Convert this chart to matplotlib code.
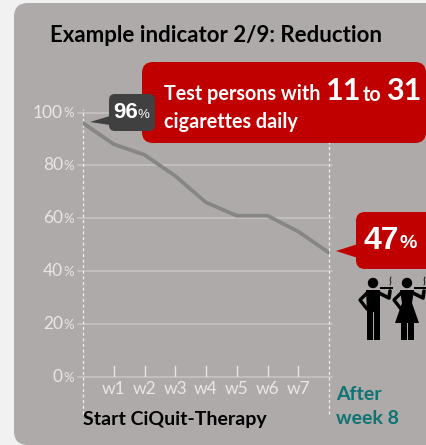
import matplotlib
matplotlib.use('Agg')
import matplotlib.pyplot as plt
from matplotlib.patches import FancyBboxPatch, Polygon, Circle, Rectangle

plt.rcParams['font.family'] = ['Lato', 'DejaVu Sans']

weeks = [0, 1, 2, 3, 4, 5, 6, 7, 8]
week_labels = ['w1', 'w2', 'w3', 'w4', 'w5', 'w6', 'w7']
percent = [96, 88, 84, 76, 66, 61, 61, 55, 47]
y_ticks = [0, 20, 40, 60, 80, 100]

W, H = 426, 445
GREY = '#aeaaa9'
RED = '#c00000'
LIGHT = '#e9e7e6'
GRID = '#c6c3c2'
TEAL = '#0f7373'
NARROW = ['Liberation Sans', 'DejaVu Sans']


def box(bg, x0, y0, x1, y1, r, color, **kw):
    bg.add_patch(FancyBboxPatch((x0 + r, y0 + r), x1 - x0 - 2 * r, y1 - y0 - 2 * r,
                                boxstyle='round,pad=%s,rounding_size=%s' % (r, r),
                                fc=color, ec='none', **kw))


def arms(bg, x):
    c = 'black'
    bg.add_patch(Circle((x, 283), 5.2, fc=c, ec='none'))
    # right arm up to the hand, left arm on the hip
    bg.plot([x + 6, x + 16, x + 17], [293, 298, 291], color=c, lw=2.6, solid_capstyle='round',
            solid_joinstyle='round')
    bg.plot([x - 6, x - 13, x - 6], [293, 300, 309], color=c, lw=2.4, solid_capstyle='round',
            solid_joinstyle='round')
    # cigarette and smoke
    bg.add_patch(Rectangle((x + 7, 286.5), 13, 2, fc=c, ec='none'))
    bg.plot([x + 17, x + 18, x + 17, x + 18], [285, 282, 280, 277], color=c, lw=0.6)


def man(bg, x):
    # pictogram, x is the head centre
    c = 'black'
    arms(bg, x)
    bg.add_patch(Polygon([(x - 7, 290), (x + 7, 290), (x + 7, 312), (x - 6, 312)], fc=c, ec='none'))
    bg.add_patch(Rectangle((x - 6, 310), 5.8, 29.5, fc=c, ec='none'))
    bg.add_patch(Rectangle((x + 1, 310), 5.8, 29.5, fc=c, ec='none'))


def woman(bg, x):
    c = 'black'
    arms(bg, x)
    bg.add_patch(Polygon([(x - 7, 290), (x + 7, 290), (x + 5, 303), (x + 12, 323), (x - 12, 323),
                          (x - 5, 303)], fc=c, ec='none'))
    bg.add_patch(Rectangle((x - 6, 322), 5.5, 17.5, fc=c, ec='none'))
    bg.add_patch(Rectangle((x + 1, 322), 5.5, 17.5, fc=c, ec='none'))


fig = plt.figure(figsize=(W / 100, H / 100), dpi=100, facecolor='#f1f1f1')

# pixel canvas behind the chart
bg = fig.add_axes([0, 0, 1, 1], zorder=0)
bg.set_xlim(0, W)
bg.set_ylim(H, 0)
bg.axis('off')
box(bg, 14, 3, 460, 445, 14, GREY)

# data axes: x 0..8 -> 83..329 px, y 0..100 -> 377..112.5 px
ax = fig.add_axes([83 / W, 1 - 377 / H, (329 - 83) / W, (377 - 112.5) / H], zorder=1)
ax.patch.set_alpha(0)
ax.set_xlim(0, 8)
ax.set_ylim(0, 100)
for s in ax.spines.values():
    s.set_visible(False)
ax.set_xticks([])
ax.set_yticks([])

for t in y_ticks:
    ax.plot([-0.16, 8.1], [t, t], color=GRID, lw=1.2, clip_on=False, zorder=1)
    ax.annotate(str(t), (0, t), xytext=(-14.5, 0), textcoords='offset points',
                ha='right', va='center', color=LIGHT, fontsize=12.5,
                annotation_clip=False)
    ax.annotate('%', (0, t), xytext=(-6.5, -0.5), textcoords='offset points',
                ha='right', va='center', color=LIGHT, fontsize=9.5,
                annotation_clip=False)

for x in [0, 8]:
    ax.plot([x, x], [-14, 101.5 if x == 0 else 110], color='#eeeeee', lw=0.9,
            ls=(0, (2.5, 2)), clip_on=False, zorder=2)

for i, lab in enumerate(week_labels):
    ax.plot([i + 1, i + 1], [0, 4], color=LIGHT, lw=1, zorder=2)
    ax.text(i + 1, -4.5, lab, ha='center', va='center', color=LIGHT, fontsize=12.5)

ax.plot(weeks, percent, color='#868686', lw=2.7, zorder=3, solid_joinstyle='round')

# text and callouts on top
top = fig.add_axes([0, 0, 1, 1], zorder=2)
top.set_xlim(0, W)
top.set_ylim(H, 0)
top.axis('off')
top.patch.set_alpha(0)

top.text(50, 35.5, 'Example indicator 2/9: Reduction', fontsize=16, fontweight='bold',
         va='center', color='black')

box(top, 142, 62, 426, 143, 11, RED)
top.text(164, 94, 'Test persons with', fontsize=14.2, fontweight='bold', color='white', va='center')
top.text(326, 91, '11', fontsize=22, fontweight='bold', color='white', va='center')
top.text(363, 95, 'to', fontsize=14.2, fontweight='bold', color='white', va='center')
top.text(386, 91, '31', fontsize=22, fontweight='bold', color='white', va='center')
top.text(164, 122, 'cigarettes daily', fontsize=14.2, fontweight='bold', color='white', va='center')

box(top, 109, 94, 155, 131, 6, '#404040')
top.add_patch(Polygon([(90, 122), (110, 116), (110, 125)], fc='#404040', ec='none'))
top.text(113, 113, '96', fontsize=16, fontweight='bold', color='white', va='center', family=NARROW)
top.text(138, 115.5, '%', fontsize=9.5, color='white', va='center', family=NARROW)

box(top, 356, 212, 440, 269, 9, RED)
top.add_patch(Polygon([(336, 251), (358, 244), (358, 258)], fc=RED, ec='none'))
top.text(364, 241, '47', fontsize=23, fontweight='bold', color='white', va='center', family=NARROW)
top.text(400, 244, '%', fontsize=14, fontweight='bold', color='white', va='center', family=NARROW)

man(top, 373)
woman(top, 407)

top.text(83, 419, 'Start CiQuit-Therapy', fontsize=14, fontweight='bold', color='black', va='center')
top.text(336, 395, 'After', fontsize=14, fontweight='bold', color=TEAL, va='center')
top.text(336, 419, 'week 8', fontsize=14, fontweight='bold', color=TEAL, va='center')

fig.savefig('out.png', dpi=100, facecolor=fig.get_facecolor())
